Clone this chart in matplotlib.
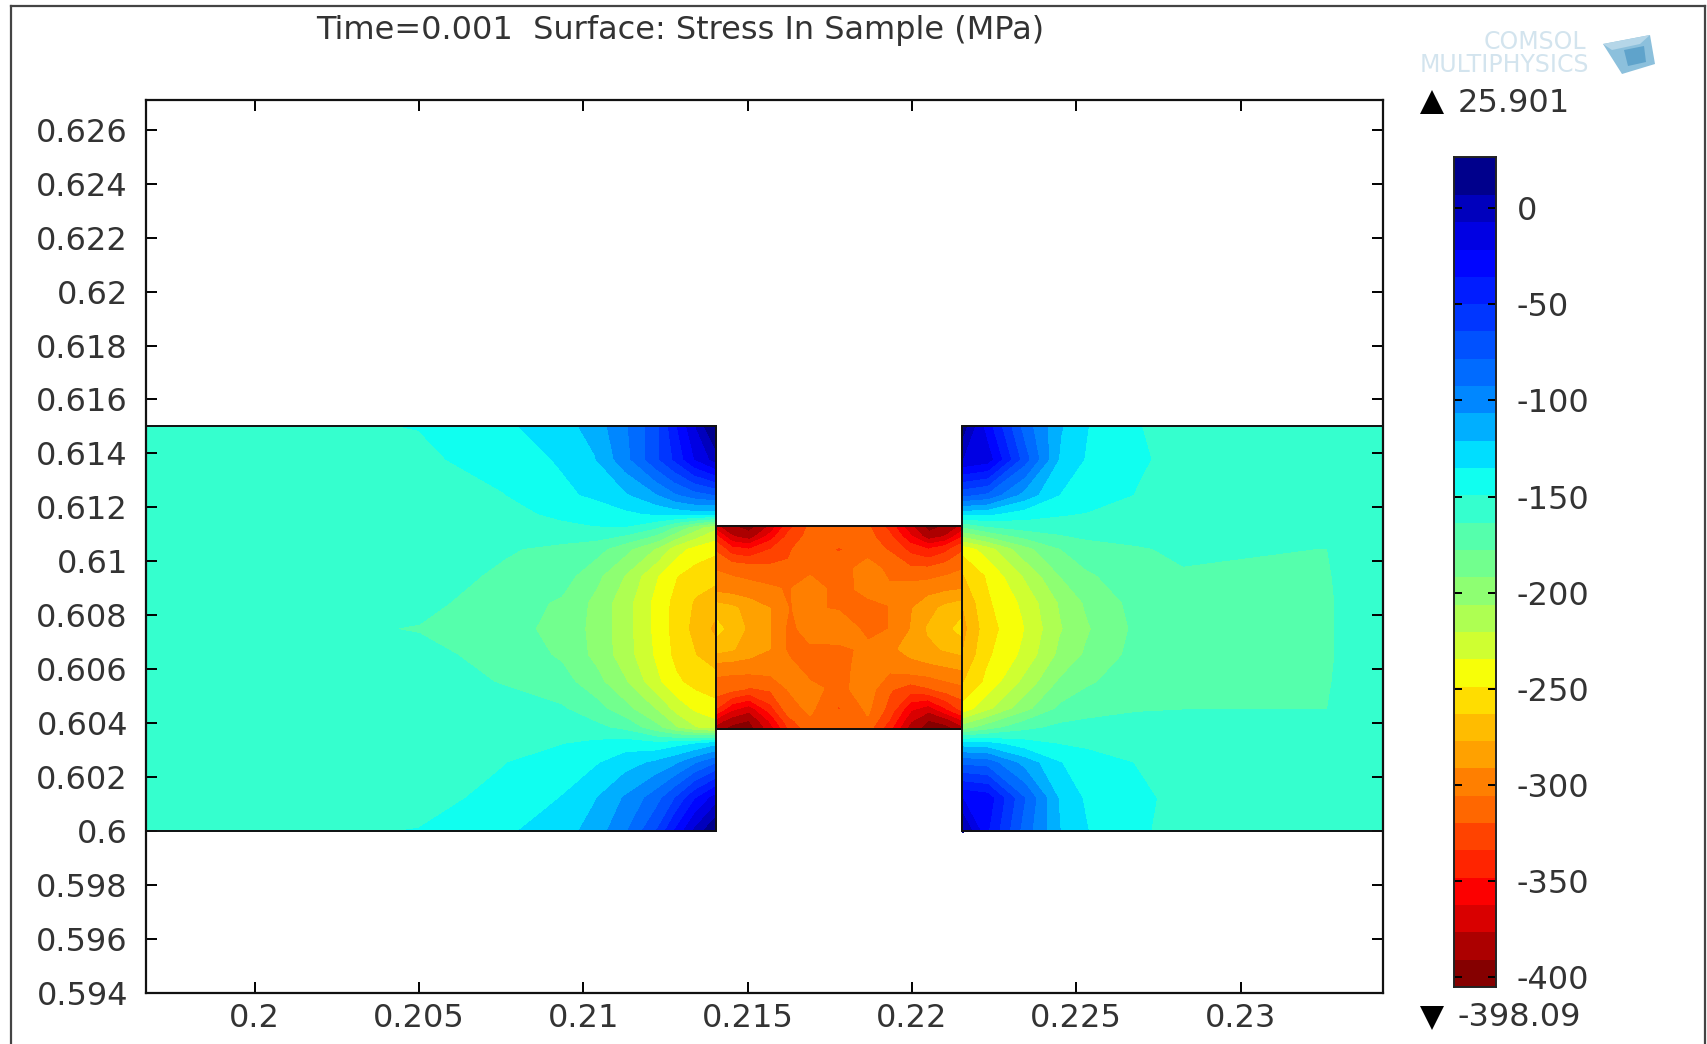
import numpy as np
import matplotlib
matplotlib.use('Agg')
import matplotlib.pyplot as plt
from matplotlib.colors import LinearSegmentedColormap, Normalize
from matplotlib.lines import Line2D
from matplotlib.patches import Polygon, Rectangle

title = 'Time=0.001  Surface: Stress In Sample (MPa)'
x_ticks = [0.2, 0.205, 0.21, 0.215, 0.22, 0.225, 0.23]
x_labels = ['0.2', '0.205', '0.21', '0.215', '0.22', '0.225', '0.23']
y_ticks = [0.594, 0.596, 0.598, 0.6, 0.602, 0.604, 0.606, 0.608, 0.61, 0.612, 0.614, 0.616, 0.618, 0.62, 0.622, 0.624, 0.626]
y_labels = ['0.594', '0.596', '0.598', '0.6', '0.602', '0.604', '0.606', '0.608', '0.61', '0.612', '0.614', '0.616', '0.618', '0.62', '0.622', '0.624', '0.626']
bar_ticks = [0, -50, -100, -150, -200, -250, -300, -350, -400]
bar_labels = ['0', '-50', '-100', '-150', '-200', '-250', '-300', '-350', '-400']
max_label = '25.901'
min_label = '-398.09'

# stress, rows from top to bottom
y_side = [0.615, 0.6138, 0.6125, 0.6118, 0.6113, 0.6105, 0.6095, 0.6085, 0.6075, 0.6065, 0.6055, 0.6045, 0.6038, 0.6032, 0.6025, 0.6012, 0.6]
x_left = [0.19669, 0.205, 0.20757, 0.20932, 0.21037, 0.2113, 0.21223, 0.2128, 0.2134, 0.21404]
stress_left = [
    [-156, -149, -138, -128, -115, -95, -70, -40, -10, 25],
    [-156, -153, -142, -134, -122, -98, -68, -48, -22, -2],
    [-156, -156, -150, -138, -133, -123, -108, -95, -85, -78],
    [-156, -156, -153, -147, -142, -138, -133, -130, -128, -130],
    [-156, -156, -156, -152, -150, -150, -162, -180, -200, -218],
    [-156, -156, -162, -167, -172, -188, -208, -228, -240, -246],
    [-156, -157, -166, -171, -188, -208, -234, -248, -256, -259],
    [-156, -160, -170, -180, -196, -216, -240, -254, -265, -272],
    [-156, -164.5, -173, -182, -197, -216, -240, -255, -268, -282],
    [-156, -160, -168, -180, -196, -215, -238, -253, -263, -270],
    [-156, -157, -164.5, -172, -187, -206, -232, -246, -254, -258],
    [-156, -156, -158, -162, -172, -188, -208, -226, -238, -244],
    [-156, -156, -156, -157, -160, -168, -188, -205, -220, -228],
    [-156, -156, -155, -150, -146, -142, -145, -140, -135, -125],
    [-156, -156, -150, -142, -137, -127, -118, -110, -95, -80],
    [-156, -155, -145, -135, -122, -105, -85, -65, -38, -15],
    [-156, -149, -138, -128, -115, -95, -65, -35, -5, 22],
]

x_right = [0.22153, 0.22229, 0.2234, 0.22452, 0.22533, 0.22685, 0.22826, 0.23262, 0.23435]
stress_right = [
    [12, -30, -85, -120, -135, -149, -154, -156, -156],
    [-8, -15, -72, -125, -137, -148, -153, -156, -156],
    [-75, -82, -112, -136, -143, -150, -155, -156, -156],
    [-130, -132, -142, -148, -150, -153, -156, -156, -156],
    [-178, -165, -158, -156, -155, -155, -156, -156, -156],
    [-245, -228, -198, -178, -170, -165, -161, -163.8, -156],
    [-265, -248, -220, -192, -180, -170, -165, -164.5, -156],
    [-278, -252, -232, -205, -190, -173, -165.5, -165, -156],
    [-284, -256, -236, -208, -194, -175, -166, -165, -156],
    [-278, -252, -232, -203, -190, -173, -165.5, -165, -156],
    [-265, -246, -218, -190, -180, -170, -165, -164.5, -156],
    [-245, -225, -198, -175, -170, -165, -164, -163.8, -156],
    [-200, -185, -168, -160, -158, -157, -156, -156, -156],
    [-128, -130, -143, -150, -152, -153, -156, -156, -156],
    [-82, -85, -112, -135, -143, -150, -154, -156, -156],
    [-22, -28, -78, -125, -138, -147, -153, -156, -156],
    [8, -35, -85, -122, -135, -148, -153, -156, -156],
]

x_mid = [0.21404, 0.21451, 0.21505, 0.21571, 0.21625, 0.2169, 0.21777, 0.21865, 0.2193, 0.21995, 0.2205, 0.22104, 0.22153]
y_mid = [0.6113, 0.61089, 0.61046, 0.60972, 0.60898, 0.60824, 0.6075, 0.60676, 0.60602, 0.60528, 0.60454, 0.60411, 0.6038]
stress_mid = [
    [-375, -390, -398, -375, -340, -318, -312, -318, -340, -375, -398, -390, -375],
    [-345, -375, -385, -355, -330, -315, -310, -315, -330, -360, -385, -375, -350],
    [-323, -345, -350, -335, -322, -312, -322, -312, -322, -340, -350, -340, -323],
    [-307, -310, -313, -316, -318, -310, -312, -300, -309, -318, -318, -312, -307],
    [-297, -299, -301, -304, -307, -298, -312, -301, -304, -300, -297, -295, -293],
    [-270, -274, -283, -292, -306, -304, -307, -312, -306, -293, -283, -273, -268],
    [-258, -270, -280, -292, -310, -300, -296, -310, -306, -292, -276, -268, -258],
    [-272, -276, -284, -292, -310, -308, -309, -303, -296, -286, -280, -276, -272],
    [-302, -302, -301, -300, -300, -312, -312, -298, -303, -299, -297, -294, -291],
    [-312, -316, -322, -318, -305, -302, -310, -299, -318, -328, -322, -314, -310],
    [-335, -360, -372, -340, -312, -303, -322, -303, -325, -360, -372, -350, -330],
    [-370, -385, -392, -360, -325, -308, -310, -308, -335, -375, -392, -385, -365],
    [-385, -398, -398, -370, -335, -312, -310, -315, -345, -385, -398, -398, -385],
]

# colours of the reference bar, sampled by eye
bar_values = [-405, -400, -385, -370, -355, -340, -325, -312, -298, -285, -270, -255, -245, -225, -200, -175, -156, -150, -135, -125, -100, -75, -50, -25, 0, 5, 26.5]
bar_colors = ['#800000', '#800000', '#a80000', '#d80000', '#ff0000', '#ff2800', '#ff4800', '#ff6a00', '#ff8000', '#ffa000', '#ffbc00', '#ffe000',
              '#ffff00', '#c8ff38', '#90ff70', '#60ffa0', '#33ffd0', '#20ffe0', '#00ffff', '#00d0ff', '#0088ff', '#0058ff', '#0028ff', '#0000ff',
              '#0000c0', '#00008c', '#00008c']

W, H = 1708, 1044
FS = 23
TXT = '#333333'


def px_axes(fig, left, top, right, bottom):
    return fig.add_axes([left / W, 1 - bottom / H, (right - left) / W, (bottom - top) / H])


fig = plt.figure(figsize=(W / 100, H / 100), dpi=100)
plt.rcParams['font.family'] = 'DejaVu Sans'

# outer frame of the screenshot
for xs, ys in [((11, 11), (6, 1044)), ((11, 1705), (6, 6)), ((1705, 1705), (6, 1044))]:
    fig.add_artist(Line2D([x / W for x in xs], [1 - y / H for y in ys], color='#444444', lw=1.6))

ax = px_axes(fig, 146, 100, 1383.5, 993)
levels = np.append(np.arange(-405, 22, 14.2), 26.5)
norm = Normalize(-405, 26.5)
stops = [(v + 405) / 431.5 for v in bar_values]
cmap = LinearSegmentedColormap.from_list('stress', list(zip(stops, bar_colors)), N=512)
for xs, ys, zs in [(x_left, y_side, stress_left), (x_right, y_side, stress_right), (x_mid, y_mid, stress_mid)]:
    cs = ax.contourf(xs, ys, zs, levels=levels, cmap=cmap, norm=norm)
    cs.set_edgecolor('face')
    ax.add_patch(Rectangle((xs[0], ys[-1]), xs[-1] - xs[0], ys[0] - ys[-1], fill=False, ec='#111111', lw=1.4, zorder=3))

ax.set_xlim(0.19669, 0.23435)
ax.set_ylim(0.594, 0.6271)
ax.set_xticks(x_ticks)
ax.set_xticklabels(x_labels)
ax.set_yticks(y_ticks)
ax.set_yticklabels(y_labels)
ax.tick_params(axis='both', direction='in', length=8, width=1.4, top=True, right=True, labelsize=FS, labelcolor=TXT)
ax.tick_params(axis='x', pad=7)
ax.tick_params(axis='y', pad=13)
for s in ax.spines.values():
    s.set_linewidth(1.6)
    s.set_color('#111111')

fig.text(680 / W, 1 - 30 / H, title, fontsize=FS, color=TXT, ha='center', va='center')

# colour bar
cax = px_axes(fig, 1454, 157, 1496, 987)
mids = (levels[:-1] + levels[1:]) / 2
cax.pcolormesh([0, 1], levels, mids.reshape(-1, 1), cmap=cmap, norm=norm)
cax.set_xticks([])
cax.set_ylim(-405, 26.5)
cax.yaxis.tick_right()
cax.set_yticks(bar_ticks)
cax.set_yticklabels(bar_labels)
cax.tick_params(axis='y', direction='in', length=6, width=1.4, left=True, right=True, pad=15, labelsize=FS, labelcolor=TXT)
for s in cax.spines.values():
    s.set_linewidth(1.4)
    s.set_color('#222222')

# max and min markers
fig.add_artist(Line2D([1432 / W], [1 - 102 / H], marker='^', ms=17, color='k', mew=0))
fig.text(1458 / W, 1 - 104 / H, max_label, fontsize=FS, color=TXT, va='center')
fig.add_artist(Line2D([1432 / W], [1 - 1018 / H], marker='v', ms=17, color='k', mew=0))
fig.text(1458 / W, 1 - 1017 / H, min_label, fontsize=FS, color=TXT, va='center')

# logo
fig.text(1586 / W, 1 - 42 / H, 'COMSOL', fontsize=17, color='#d3e4ee', ha='right', va='center')
fig.text(1589 / W, 1 - 65 / H, 'MULTIPHYSICS', fontsize=17, color='#d3e4ee', ha='right', va='center')
for pts, col in [
    ([(1603, 44), (1650, 35), (1655, 64), (1622, 74)], '#8cc0dc'),
    ([(1603, 44), (1650, 35), (1640, 44), (1612, 50)], '#b5d6e8'),
    ([(1624, 50), (1644, 46), (1646, 62), (1628, 66)], '#5fa3cb'),
]:
    fig.add_artist(Polygon([(x / W, 1 - y / H) for x, y in pts], closed=True, fc=col, ec='none', transform=fig.transFigure))

fig.savefig('out.png', dpi=100)
